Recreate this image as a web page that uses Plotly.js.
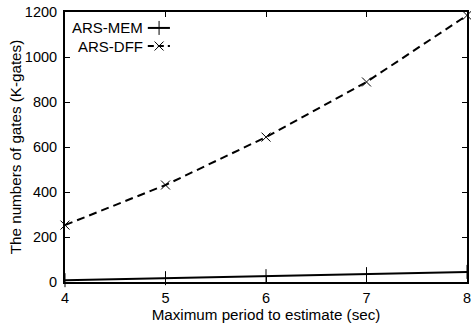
<!DOCTYPE html>
<html>
<head>
<meta charset="utf-8">
<script src="https://cdn.plot.ly/plotly-3.0.1.min.js"></script>
<style>html,body{margin:0;padding:0;background:#fff;}#chart{width:471px;height:327px;}</style>
</head>
<body>
<div id="chart"></div>
<script>
const periods = [4, 5, 6, 7, 8];
const arsMem = [8, 17, 26, 35, 45];
const arsDff = [253, 431, 644, 889, 1185];
const seriesNames = ['ARS-MEM', 'ARS-DFF'];
const yTicks = [0, 200, 400, 600, 800, 1000, 1200];

const fam = 'Liberation Sans, Arial, sans-serif';
const tickFont = {family: fam, size: 14.5, color: '#000'};
const titleFont = {family: fam, size: 15.2, color: '#000'};
const legFont = {family: fam, size: 15, color: '#000'};

const traces = [
  {x: periods, y: arsMem, type: 'scatter', mode: 'lines+markers', name: seriesNames[0],
   line: {color: '#000', width: 2}, cliponaxis: false,
   marker: {symbol: 'line-ns-open', size: 10, color: '#000', line: {width: 1, color: '#000'}}},
  {x: periods, y: arsDff, type: 'scatter', mode: 'lines+markers', name: seriesNames[1],
   line: {color: '#000', width: 2, dash: '8px,5px'}, cliponaxis: false,
   marker: {symbol: 'x-thin-open', size: 9, color: '#000', line: {width: 1, color: '#000'}}},
  // legend samples (on hidden 0..1 axes)
  {x: [0.206, 0.261], y: [0.941, 0.941], xaxis: 'x2', yaxis: 'y2', type: 'scatter', mode: 'lines',
   line: {color: '#000', width: 2}, hoverinfo: 'skip'},
  {x: [0.234], y: [0.941], xaxis: 'x2', yaxis: 'y2', type: 'scatter', mode: 'markers',
   marker: {symbol: 'line-ns-open', size: 10, color: '#000', line: {width: 1, color: '#000'}}, hoverinfo: 'skip'},
  {x: [0.206, 0.261], y: [0.874, 0.874], xaxis: 'x2', yaxis: 'y2', type: 'scatter', mode: 'lines',
   line: {color: '#000', width: 2, dash: '6px,4px'}, hoverinfo: 'skip'},
  {x: [0.234], y: [0.874], xaxis: 'x2', yaxis: 'y2', type: 'scatter', mode: 'markers',
   marker: {symbol: 'x-thin-open', size: 9, color: '#000', line: {width: 1, color: '#000'}}, hoverinfo: 'skip'}
];

const layout = {
  width: 471, height: 327,
  margin: {l: 65, r: 4, t: 12, b: 45},
  paper_bgcolor: '#fff', plot_bgcolor: '#fff',
  showlegend: false,
  font: tickFont,
  xaxis: {
    range: [4, 8], tickvals: periods, ticktext: periods.map(String),
    showgrid: false, zeroline: false, showline: true, linewidth: 2, linecolor: '#000',
    mirror: 'allticks', ticks: 'inside', ticklen: 5, tickwidth: 1, tickcolor: '#000',
    tickfont: tickFont, ticklabelstandoff: 2, ticklabeloverflow: 'allow',
    title: {text: 'Maximum period to estimate (sec)', font: titleFont, standoff: 4}
  },
  yaxis: {
    range: [0, 1200], tickvals: yTicks, ticktext: yTicks.map(String),
    showgrid: false, zeroline: false, showline: true, linewidth: 2, linecolor: '#000',
    mirror: 'allticks', ticks: 'inside', ticklen: 5, tickwidth: 1, tickcolor: '#000',
    tickfont: tickFont, ticklabelstandoff: 3, ticklabeloverflow: 'allow',
    title: {text: 'The numbers of gates (K-gates)', font: titleFont, standoff: 0}
  },
  xaxis2: {overlaying: 'x', range: [0, 1], visible: false, fixedrange: true},
  yaxis2: {overlaying: 'y', range: [0, 1], visible: false, fixedrange: true},
  annotations: [
    {xref: 'paper', yref: 'paper', x: 0.198, y: 0.941, xanchor: 'right', yanchor: 'middle',
     text: seriesNames[0], showarrow: false, font: legFont},
    {xref: 'paper', yref: 'paper', x: 0.198, y: 0.874, xanchor: 'right', yanchor: 'middle',
     text: seriesNames[1], showarrow: false, font: legFont}
  ]
};

Plotly.newPlot('chart', traces, layout, {displayModeBar: false, staticPlot: true});
</script>
</body>
</html>
